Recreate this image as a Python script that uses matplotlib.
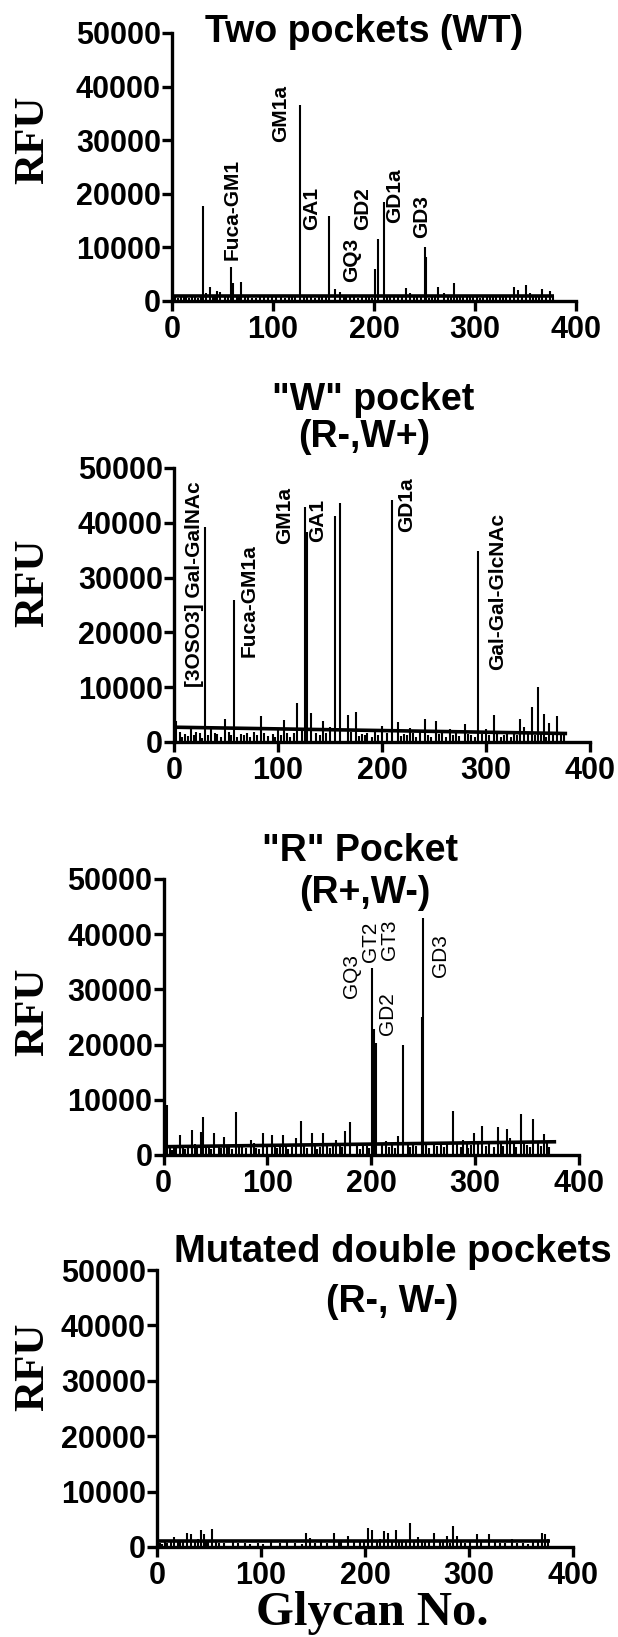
import matplotlib
matplotlib.use('Agg')
import matplotlib.pyplot as plt

plt.rcParams['font.family'] = ['Liberation Sans', 'DejaVu Sans']

W, H = 618, 1637

# ---- data (glycan number, RFU) ----
wt_glycan = [31, 34, 38, 45, 48, 58, 60, 68, 127, 155, 161, 166, 201, 204, 210,
             232, 236, 250, 251, 263, 269, 279, 292, 318, 325, 339, 343, 350, 354,
             366, 374, 377]
wt_rfu = [17700, 1500, 2600, 1800, 1700, 6400, 3300, 3600, 36500, 15800, 2300, 1700,
          6000, 11500, 18500, 2400, 1500, 10100, 8300, 2600, 1400, 3400, 1200, 1200,
          1100, 2700, 2000, 3000, 1500, 2200, 1800, 900]
wt_low_glycan = [3, 6, 9, 12, 14, 17, 20, 23, 26, 29, 41, 43, 52, 55, 64, 66, 72, 75, 79,
                 83, 87, 91, 95, 99, 103, 108, 112, 116, 119, 122, 131, 134, 138, 142, 146,
                 149, 152, 170, 172, 176, 180, 184, 188, 192, 195, 198, 213, 216, 220, 224,
                 228, 240, 243, 247, 254, 257, 260, 273, 276, 282, 285, 288, 295, 298, 302,
                 305, 308, 312, 315, 321, 328, 331, 335, 347, 357, 360, 363, 370]
wt_low_rfu = [900, 600, 700, 900, 800, 600, 1000, 700, 600, 900, 900, 700, 800, 1000, 700,
              900, 800, 900, 600, 600, 900, 800, 700, 700, 900, 900, 600, 800, 1000, 700,
              800, 900, 700, 600, 900, 800, 700, 900, 700, 800, 900, 600, 800, 900, 700,
              600, 800, 800, 700, 700, 900, 800, 900, 700, 600, 700, 900, 800, 1000, 700,
              800, 900, 700, 700, 900, 600, 800, 800, 700, 900, 800, 1000, 900, 900, 800,
              700, 900, 900]
wt_thresh = [1000, 1000]

w_glycan = [2, 16, 30, 36, 49, 58, 84, 100, 106, 118, 123, 126, 128, 132, 143, 150, 155,
            160, 167, 175, 200, 210, 215, 227, 241, 252, 265, 280, 292, 300, 308, 333,
            337, 344, 350, 356, 361, 368]
w_rfu = [3800, 2800, 39300, 2500, 4200, 25900, 4800, 2600, 4000, 7100, 2300, 42900,
         38300, 5300, 3900, 2700, 41200, 43700, 5000, 5400, 2900, 44100, 3600, 2500,
         4200, 3800, 2400, 3300, 34900, 2300, 5000, 4200, 2800, 6400, 10000, 5100, 3500, 4800]
w_low_glycan = [6, 8, 11, 13, 19, 21, 25, 27, 33, 39, 41, 45, 53, 55, 61, 64, 67, 70, 73,
                77, 80, 87, 90, 95, 97, 103, 109, 112, 115, 137, 140, 146, 170, 178, 181,
                184, 186, 190, 193, 196, 205, 218, 221, 224, 230, 233, 237, 244, 247, 255,
                258, 262, 268, 271, 274, 283, 286, 289, 296, 303, 311, 314, 317, 320, 324,
                327, 330, 340, 347, 353, 358, 364, 372, 375]
w_low_rfu = [1800, 900, 1500, 1100, 1300, 1900, 1600, 800, 1200, 1700, 1400, 1000, 1800,
             1200, 900, 1500, 1300, 1700, 1000, 1900, 1200, 1600, 1100, 1500, 900, 1300,
             1700, 1000, 1600, 1700, 1200, 1600, 1900, 1100, 1500, 1300, 1700, 1000, 1800,
             1200, 1600, 1100, 1500, 1300, 1700, 1000, 1800, 1200, 900, 1400, 1600, 1000,
             1300, 1800, 1100, 1500, 1300, 1000, 1400, 1200, 1600, 1000, 1300, 1500, 900,
             1700, 1200, 1600, 1300, 1500, 1000, 1400, 1600, 1200]
w_thresh = [2700, 1550]

r_glycan = [3, 16, 27, 36, 38, 49, 58, 70, 84, 96, 104, 115, 128, 132, 143, 154, 166,
            175, 180, 201, 202, 203, 205, 214, 226, 231, 249, 250, 279, 288, 299, 307,
            322, 331, 334, 344, 356, 366]
r_rfu = [9100, 3600, 4500, 4200, 6900, 3900, 3200, 7700, 2700, 3900, 3600, 3700, 3100,
         6200, 3900, 4000, 2700, 4400, 6000, 33800, 14800, 22900, 20200, 2500, 3400,
         19900, 25000, 43000, 8000, 2700, 4000, 5300, 5000, 4800, 3000, 7400, 6600, 3800]
r_low_glycan = [6, 8, 10, 12, 19, 21, 24, 30, 32, 41, 44, 46, 53, 55, 61, 63, 66, 73, 76,
                79, 87, 89, 92, 100, 107, 109, 112, 118, 120, 124, 135, 138, 146, 148, 151,
                157, 160, 163, 170, 172, 186, 189, 192, 196, 198, 210, 217, 220, 223, 235,
                237, 240, 243, 253, 256, 260, 263, 267, 270, 273, 283, 286, 292, 293, 296,
                303, 310, 313, 318, 325, 327, 337, 339, 347, 350, 353, 361, 363, 369, 371]
r_low_rfu = [1400, 900, 1200, 1800, 1600, 1000, 1300, 2000, 1500, 1500, 1900, 1100, 1700,
             1200, 1600, 1400, 1000, 1800, 1600, 1200, 2100, 1300, 1000, 1800, 1500, 1200,
             1900, 1700, 1100, 1400, 2000, 1300, 1600, 1000, 1500, 1800, 1200, 1900, 2100,
             1400, 1900, 1000, 2100, 1600, 1300, 2200, 1500, 1800, 1200, 2000, 1400, 2300,
             1700, 1900, 1300, 2100, 1600, 2200, 1400, 2000, 2400, 1500, 2100, 1300, 1800,
             2300, 1600, 2200, 1400, 2100, 1700, 2300, 1500, 2100, 1800, 1400, 2400, 1700,
             2200, 1500]
r_thresh = [1500, 2400]

m_glycan = [16, 29, 33, 42, 45, 53, 73, 110, 143, 147, 170, 184, 203, 207, 218, 222,
            230, 243, 251, 266, 279, 285, 288, 308, 319, 341, 370, 373, 376]
m_rfu = [1800, 2600, 2400, 3000, 2400, 3300, 1300, 1300, 2500, 1700, 2600, 1900, 3400,
         3000, 2800, 2500, 3000, 4300, 1800, 2500, 2000, 3800, 1900, 2300, 2300, 1400,
         2600, 2300, 1500]
m_low_glycan = [3, 5, 8, 10, 13, 20, 22, 25, 37, 39, 47, 49, 57, 60, 64, 78, 85, 89, 97,
                102, 118, 125, 133, 139, 152, 158, 163, 175, 177, 189, 195, 199, 212, 214,
                226, 233, 236, 239, 247, 255, 258, 262, 272, 275, 282, 292, 296, 301, 312,
                325, 330, 335, 346, 352, 357, 362, 366]
m_low_rfu = [800, 600, 900, 700, 1200, 1300, 1200, 1100, 1100, 1400, 1200, 900, 1000, 700,
             800, 700, 800, 600, 700, 600, 700, 900, 800, 600, 700, 1000, 800, 900, 1000,
             900, 1100, 1300, 1200, 1500, 1000, 1300, 1100, 1200, 1000, 1100, 1300, 900,
             900, 1200, 800, 1000, 800, 1100, 1000, 900, 700, 800, 700, 800, 600, 900, 1000]
m_thresh = [1000, 1000]

thresh_end = 378

# glycan labels: (text, glycan centre, RFU at bottom of text)
wt_labels = [("Fuca-GM1", 59.5, 7600), ("GM1a", 107.5, 29700), ("GA1", 138, 13200),
             ("GQ3", 178, 3600), ("GD2", 189, 13200), ("GD1a", 220, 14500),
             ("GD3", 247.5, 11700)]
w_labels = [("[3OSO3] Gal-GalNAc", 19.7, 10100), ("Fuca-GM1a", 72, 15600),
            ("GM1a", 106, 36200), ("GA1", 138.5, 36500), ("GD1a", 224, 38400),
            ("Gal-Gal-GlcNAc", 311, 13200)]
r_labels = [("GQ3", 181, 28400), ("GT2", 199, 35000), ("GT3", 218, 35300),
            ("GD2", 216, 21700), ("GD3", 266.5, 32300)]
m_labels = []

yticks = [0, 10000, 20000, 30000, 40000, 50000]
xticks = [0, 100, 200, 300, 400]

# panel boxes in pixels: left, right, y of 0, y of 50000
panels = [
    dict(box=(172, 576, 301, 33), g=wt_glycan, v=wt_rfu, lg=wt_low_glycan, lv=wt_low_rfu,
         th=wt_thresh, labels=wt_labels, weight='bold',
         title=[("Two pockets (WT)", 190, 48300, 27)], rfu_y=140),
    dict(box=(174, 590, 742, 468), g=w_glycan, v=w_rfu, lg=w_low_glycan, lv=w_low_rfu,
         th=w_thresh, labels=w_labels, weight='bold',
         title=[('"W" pocket', 191, 60600, 27), ("(R-,W+)", 183, 53800, 27)], rfu_y=583),
    dict(box=(163.5, 579, 1155, 879), g=r_glycan, v=r_rfu, lg=r_low_glycan, lv=r_low_rfu,
         th=r_thresh, labels=r_labels, weight='normal',
         title=[('"R" Pocket', 189, 53200, 27), ("(R+,W-)", 194, 45600, 27)], rfu_y=1012),
    dict(box=(157, 573, 1547, 1270), g=m_glycan, v=m_rfu, lg=m_low_glycan, lv=m_low_rfu,
         th=m_thresh, labels=m_labels, weight='bold',
         title=[("Mutated double pockets", 227, 51400, 27.5), ("(R-, W-)", 226, 42400, 27)],
         rfu_y=1367),
]

fig = plt.figure(figsize=(W / 100, H / 100), dpi=100)

for p in panels:
    left, right, y0, y1 = p['box']
    ax = fig.add_axes([left / W, 1 - y0 / H, (right - left) / W, (y0 - y1) / H])
    ax.set_xlim(0, 400)
    ax.set_ylim(0, 50000)
    ax.spines['top'].set_visible(False)
    ax.spines['right'].set_visible(False)
    for s in ['left', 'bottom']:
        ax.spines[s].set_linewidth(2.4)
    ax.tick_params(axis='both', direction='out', length=7, width=2.4, labelsize=22)
    ax.tick_params(axis='y', pad=1)
    ax.tick_params(axis='x', pad=3)
    ax.set_xticks(xticks)
    ax.set_yticks(yticks)
    ax.set_yticklabels([str(t) for t in yticks], fontweight='bold')
    ax.set_xticklabels([str(t) for t in xticks], fontweight='bold')

    ax.vlines(p['lg'], 0, p['lv'], colors='black', lw=1.5)
    ax.vlines(p['g'], 0, p['v'], colors='black', lw=1.5)
    ax.plot([0, thresh_end], p['th'], color='black', lw=2.6, solid_capstyle='butt')

    for txt, gx, gy in p['labels']:
        ax.text(gx, gy, txt, rotation=90, ha='center', va='bottom', fontsize=15,
                fontweight=p['weight'], clip_on=False)
    for txt, gx, gy, fs in p['title']:
        ax.text(gx, gy, txt, ha='center', va='baseline', fontsize=fs,
                fontweight='bold', clip_on=False)

    fig.text(33 / W, 1 - p['rfu_y'] / H, 'RFU', rotation=90, ha='center', va='center',
             fontsize=31, fontweight='bold', family='Liberation Serif')

fig.text(372 / W, 1 - 1625 / H, 'Glycan No.', ha='center', va='baseline',
         fontsize=35, fontweight='bold', family='Liberation Serif')

fig.savefig('out.png', dpi=100)
